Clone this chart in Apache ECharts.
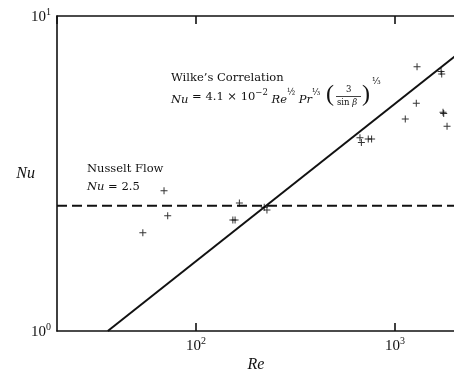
<!DOCTYPE html>
<html>
<head>
<meta charset="utf-8">
<script src="https://cdn.jsdelivr.net/npm/echarts@6/dist/echarts.min.js"></script>
<style>
  html, body { margin: 0; padding: 0; background: #fff; }
  #chart { width: 454px; height: 373px; }
</style>
</head>
<body>
<div id="chart"></div>
<script>
// Nu vs Re, log-log, 实验点 + 两条关联式
const measRe = [54, 69, 72, 153, 157, 165, 220, 227, 666, 677, 733, 762, 1125, 1278, 1289, 1702, 1715, 1741, 1755, 1824]
const measNu = [2.05, 2.79, 2.32, 2.25, 2.25, 2.55, 2.47, 2.42, 4.11, 3.97, 4.07, 4.07, 4.71, 5.28, 6.90, 6.66, 6.54, 4.95, 4.90, 4.47]

// Wilke 关联式的两端点 (斜率 1/2)
const wilkeRe = [36, 2000]
const wilkeNu = [1.0, 7.45]

// Nusselt flow, Nu = 2.5
const nusseltRe = [20, 2000]
const nusseltNu = [2.5, 2.5]

const reRange = [20, 2000]
const nuRange = [1, 10]

const FONT = 'Liberation Serif'
const NOTE = 'DejaVu Serif'
const INK = '#111'

function supLabel(v) {
  const e = Math.round(Math.log10(v))
  return '{b|10}{s|' + e + '}'
}
const labelRich = {
  b: { fontFamily: FONT, fontSize: 15, color: INK, lineHeight: 18, verticalAlign: 'bottom' },
  s: { fontFamily: FONT, fontSize: 10, color: INK, lineHeight: 18, verticalAlign: 'top' }
}

const myEcharts = echarts.init(document.getElementById('chart'))

const baseX = {
  type: 'log',
  logBase: 10,
  min: reRange[0],
  max: reRange[1],
  splitLine: { show: false },
  axisLine: { lineStyle: { color: INK, width: 1.6 } },
  axisTick: { inside: true, length: 8, lineStyle: { color: INK, width: 1.6 } },
  minorTick: { show: false }
}

const noteRich = {
  i: { fontFamily: NOTE, fontStyle: 'italic', fontSize: 11.5, lineHeight: 18, verticalAlign: 'bottom' },
  s: { fontFamily: NOTE, fontSize: 8.5, lineHeight: 18, verticalAlign: 'top' }
}

const options = {
  animation: false,
  backgroundColor: '#fff',
  grid: { left: 57, top: 16, width: 398, height: 315, outerBoundsMode: 'none' },
  xAxis: [
    Object.assign({}, baseX, {
      position: 'bottom',
      name: 'Re',
      nameLocation: 'middle',
      nameGap: 26,
      nameMoveOverlap: false,
      nameTextStyle: { fontFamily: FONT, fontStyle: 'italic', fontSize: 16, color: INK },
      axisLabel: {
        margin: 5,
        showMinLabel: false,
        showMaxLabel: false,
        formatter: supLabel,
        rich: labelRich
      }
    }),
    Object.assign({}, baseX, {
      position: 'top',
      axisLabel: { show: false }
    })
  ],
  yAxis: {
    type: 'log',
    logBase: 10,
    min: nuRange[0],
    max: nuRange[1],
    name: 'Nu',
    nameLocation: 'middle',
    nameRotate: 0,
    nameGap: 22,
    nameMoveOverlap: false,
    nameTextStyle: { fontFamily: FONT, fontStyle: 'italic', fontSize: 16, color: INK },
    splitLine: { show: false },
    axisLine: { lineStyle: { color: INK, width: 1.6 } },
    axisTick: { show: false },
    axisLabel: { margin: 6, formatter: supLabel, rich: labelRich }
  },
  series: [
    {
      // Nusselt flow 虚线
      type: 'line',
      data: nusseltRe.map((r, i) => [r, nusseltNu[i]]),
      symbol: 'none',
      lineStyle: { color: INK, width: 2, type: [10, 5] },
      z: 2
    },
    {
      // Wilke 关联式
      type: 'line',
      data: wilkeRe.map((r, i) => [r, wilkeNu[i]]),
      symbol: 'none',
      lineStyle: { color: INK, width: 2 },
      z: 2
    },
    {
      // 实验点 "+"
      type: 'scatter',
      data: measRe.map((r, i) => [r, measNu[i]]),
      symbol: 'path://M3,0H4V3H7V4H4V7H3V4H0V3H3Z',
      symbolSize: 7,
      itemStyle: { color: '#000' },
      z: 3
    }
  ],
  graphic: [
    {
      type: 'text', left: 171, top: 72,
      style: { text: 'Wilke\u2019s Correlation', fontFamily: NOTE, fontSize: 11.5, fill: INK }
    },
    {
      type: 'text', left: 171, top: 88,
      style: {
        text: '{i|Nu} = 4.1 \u00d7 10{s|\u22122} {i|Re}{s|\u00bd}{i| Pr}{s|\u2153}',
        fontFamily: NOTE, fontSize: 11.5, fill: INK, lineHeight: 18,
        rich: noteRich
      }
    },
    {
      type: 'text', left: 326, top: 83,
      style: { text: '(', fontFamily: FONT, fontSize: 24, fill: INK }
    },
    {
      type: 'text', left: 346, top: 85,
      style: { text: '3', fontFamily: NOTE, fontSize: 8.5, fill: INK }
    },
    {
      type: 'line', shape: { x1: 336, y1: 96.5, x2: 361, y2: 96.5 },
      style: { stroke: INK, lineWidth: 0.8 }
    },
    {
      type: 'text', left: 337, top: 98,
      style: {
        text: 'sin {i|\u03b2}', fontFamily: NOTE, fontSize: 8.5, fill: INK,
        rich: { i: { fontFamily: NOTE, fontStyle: 'italic', fontSize: 8.5 } }
      }
    },
    {
      type: 'text', left: 362, top: 83,
      style: { text: ')', fontFamily: FONT, fontSize: 24, fill: INK }
    },
    {
      type: 'text', left: 372, top: 77,
      style: { text: '\u2153', fontFamily: NOTE, fontSize: 9, fill: INK }
    },
    {
      type: 'text', left: 87, top: 163,
      style: { text: 'Nusselt Flow', fontFamily: NOTE, fontSize: 11.5, fill: INK }
    },
    {
      type: 'text', left: 87, top: 181,
      style: {
        text: '{i|Nu} = 2.5', fontFamily: NOTE, fontSize: 11.5, fill: INK,
        rich: { i: { fontFamily: NOTE, fontStyle: 'italic', fontSize: 11.5 } }
      }
    }
  ]
}
options && myEcharts.setOption(options)
</script>
</body>
</html>
